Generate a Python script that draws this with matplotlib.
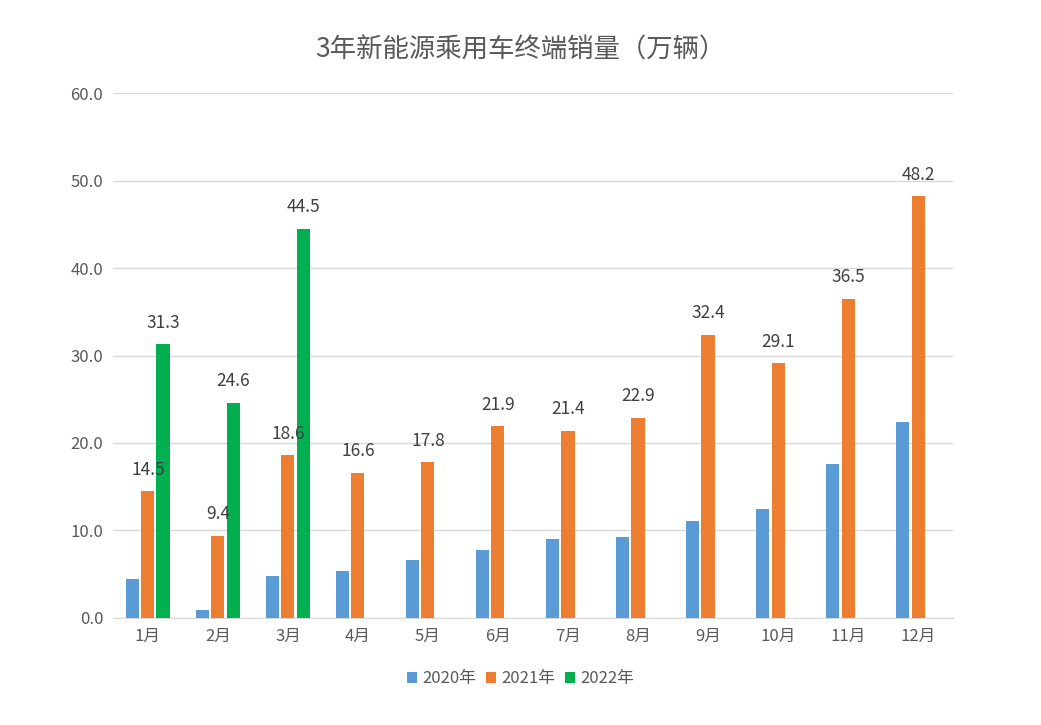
import matplotlib
matplotlib.use("Agg")
import matplotlib.pyplot as plt
import numpy as np

plt.rcParams['font.family'] = ['Noto Sans CJK SC', 'DejaVu Sans']

months = ["1月", "2月", "3月", "4月", "5月", "6月", "7月", "8月", "9月", "10月", "11月", "12月"]
sales_2020 = [4.4, 0.9, 4.8, 5.4, 6.6, 7.8, 9.0, 9.3, 11.1, 12.5, 17.6, 22.4]
sales_2021 = [14.5, 9.4, 18.6, 16.6, 17.8, 21.9, 21.4, 22.9, 32.4, 29.1, 36.5, 48.2]
sales_2022 = [31.3, 24.6, 44.5]

BLUE = "#5B9BD5"
ORANGE = "#ED7D31"
GREEN = "#00B050"
TXT = "#404040"

fig = plt.figure(figsize=(10.41, 7.25), dpi=100)
ax = fig.add_axes([0.1085, 0.1476, 0.807, 0.7241])

x = np.arange(len(months))
w = 0.186
step = 0.215

b1 = ax.bar(x - step, sales_2020, w, color=BLUE, label="2020年", zorder=3)
b2 = ax.bar(x, sales_2021, w, color=ORANGE, label="2021年", zorder=3)
b3 = ax.bar(x[:len(sales_2022)] + step, sales_2022, w, color=GREEN, label="2022年", zorder=3)

for bars, vals in [(b2, sales_2021), (b3, sales_2022)]:
    for r, v in zip(bars, vals):
        ax.annotate(f"{v:.1f}", (r.get_x() + r.get_width() / 2, v),
                    xytext=(0, 15.5), textcoords="offset points",
                    ha="center", va="center", fontsize=12.5, color=TXT)

ax.set_xlim(-0.5, len(months) - 0.5)
ax.set_ylim(0, 60)
ax.set_yticks(np.arange(0, 61, 10))
ax.set_yticklabels([f"{t:.1f}" for t in np.arange(0, 61, 10)], fontsize=12, color="#595959")
ax.set_xticks(x)
ax.set_xticklabels(months, fontsize=12, color="#595959")
ax.tick_params(axis="x", length=0, pad=7)
ax.tick_params(axis="y", length=0, pad=7)

ax.grid(axis="y", color="#D9D9D9", linewidth=1, zorder=0)
for s in ["top", "right", "left"]:
    ax.spines[s].set_visible(False)
ax.spines["bottom"].set_color("#D9D9D9")

fig.suptitle("3年新能源乘用车终端销量（万辆）", x=0.5, y=0.95, fontsize=19,
             color="#595959")

fig.legend(handles=[b1, b2, b3], loc="center", bbox_to_anchor=(0.5, 0.064), ncol=3,
           frameon=False, fontsize=12, handlelength=0.6, handleheight=0.6,
           handletextpad=0.3, columnspacing=0.6, labelcolor="#595959")

fig.savefig("out.png", dpi=100, facecolor="white")
